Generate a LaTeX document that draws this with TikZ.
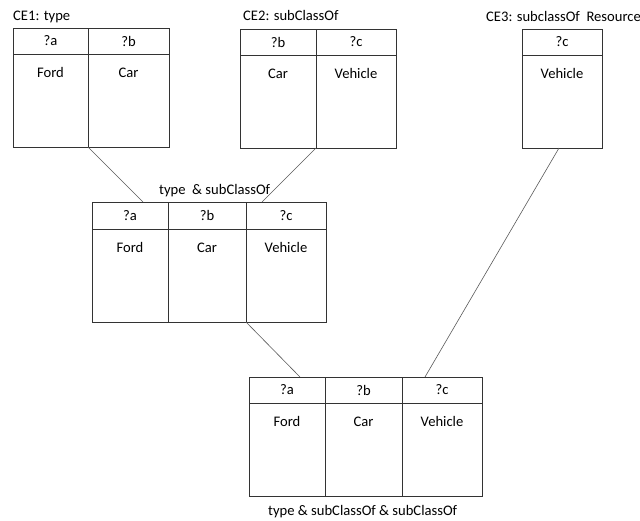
\documentclass[tikz,border=0pt]{standalone}
\usepackage{fontspec}
\setmainfont{Carlito}
\usetikzlibrary{positioning}
\tikzset{
  hcell/.style={draw=black!80,line width=0.8pt,inner sep=0pt,outer sep=0pt,
    minimum width=#1,minimum height=26pt},
  bcell/.style={draw=black!80,line width=0.8pt,inner sep=0pt,outer sep=0pt,
    minimum width=#1,text height=23pt,text depth=70pt},
  link/.style={draw=black!65,line width=0.6pt},
  caption/.style={inner sep=0pt,anchor=base west},
}

\begin{document}
\begin{tikzpicture}[x=1pt,y=-1pt,font=\fontsize{14.6}{17}\selectfont]
  \useasboundingbox (0,0) rectangle (640,520);

  % CE1: type
  \node[caption] (ce1t) at (13,20) {CE1: type};
  \node[hcell=75pt,anchor=north west] (ce1a) at (13,28) {?a};
  \node[hcell=81pt,right=0pt of ce1a] (ce1b) {?b};
  \node[bcell=75pt,below=0pt of ce1a] (ce1ford) {Ford};
  \node[bcell=81pt,below=0pt of ce1b] (ce1car) {Car};

  % CE2: subClassOf
  \node[caption] (ce2t) at (243,20) {CE2: subClassOf};
  \node[hcell=76pt,anchor=north west] (ce2b) at (240,29) {?b};
  \node[hcell=80pt,right=0pt of ce2b] (ce2c) {?c};
  \node[bcell=76pt,below=0pt of ce2b] (ce2car) {Car};
  \node[bcell=80pt,below=0pt of ce2c] (ce2veh) {Vehicle};

  % CE3: subclassOf Resource
  \node[caption] (ce3t) at (486,21) {CE3: subclassOf\ \ Resource};
  \node[hcell=80pt,anchor=north west] (ce3c) at (522,29) {?c};
  \node[bcell=80pt,below=0pt of ce3c] (ce3veh) {Vehicle};

  % join of CE1 and CE2
  \node[caption] (midt) at (159,194) {type\ \ \& subClassOf};
  \node[hcell=76pt,minimum height=27pt,anchor=north west] (ma) at (92,202) {?a};
  \node[hcell=78pt,minimum height=27pt,right=0pt of ma] (mb) {?b};
  \node[hcell=80pt,minimum height=27pt,right=0pt of mb] (mc) {?c};
  \node[bcell=76pt,below=0pt of ma] (mford) {Ford};
  \node[bcell=78pt,below=0pt of mb] (mcar) {Car};
  \node[bcell=80pt,below=0pt of mc] (mveh) {Vehicle};

  % join with CE3
  \node[hcell=76pt,anchor=north west] (ba) at (249,377) {?a};
  \node[hcell=77pt,right=0pt of ba] (bb) {?b};
  \node[hcell=80pt,right=0pt of bb] (bc) {?c};
  \node[bcell=76pt,below=0pt of ba] (bford) {Ford};
  \node[bcell=77pt,below=0pt of bb] (bcar) {Car};
  \node[bcell=80pt,below=0pt of bc] (bveh) {Vehicle};
  \node[caption] (bott) at (268,515) {type \& subClassOf \& subClassOf};

  \draw[link] (ce1ford.south east) -- ([xshift=13pt]ma.north);
  \draw[link] (ce2car.south east) -- ([xshift=-24pt]mc.north);
  \draw[link] (mcar.south east) -- ([xshift=13pt]ba.north);
  \draw[link] ([xshift=-3pt]ce3veh.south) -- ([xshift=-17pt]bc.north);
\end{tikzpicture}
\end{document}
